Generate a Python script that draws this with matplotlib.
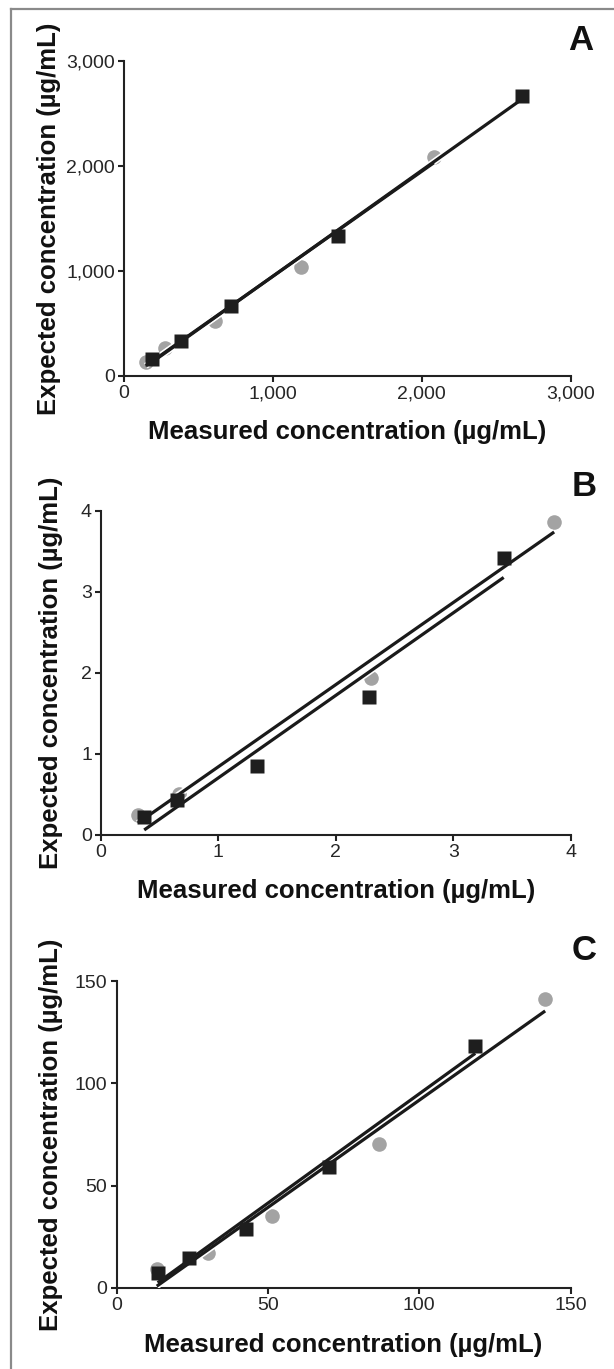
import numpy as np
import matplotlib
matplotlib.use("Agg")
import matplotlib.pyplot as plt
from matplotlib.lines import Line2D

plt.rcParams['font.family'] = ['Liberation Sans', 'DejaVu Sans']

# ---------------- data ----------------
A_circle_x = [147, 274, 611, 1190, 2081]
A_circle_y = [135, 265, 521, 1042, 2090]
A_square_x = [190, 385, 722, 1438, 2676]
A_square_y = [160, 333, 667, 1335, 2668]

B_circle_x = [0.314, 0.662, 2.30, 3.86]
B_circle_y = [0.243, 0.498, 1.93, 3.864]
B_square_x = [0.368, 0.648, 1.327, 2.28, 3.43]
B_square_y = [0.222, 0.428, 0.852, 1.70, 3.416]

C_circle_x = [13.3, 30.2, 51.3, 86.7, 141.6]
C_circle_y = [9.0, 17.1, 35.1, 70.5, 141.5]
C_square_x = [13.6, 24.0, 42.9, 70.3, 118.5]
C_square_y = [7.0, 14.7, 28.7, 58.9, 118.3]

A_ticks = [0, 1000, 2000, 3000]
A_ticklabels = ['0', '1,000', '2,000', '3,000']
B_ticks = [0, 1, 2, 3, 4]
B_ticklabels = ['0', '1', '2', '3', '4']
C_ticks = [0, 50, 100, 150]
C_ticklabels = ['0', '50', '100', '150']

panel_letters = ['A', 'B', 'C']
xlabel = 'Measured concentration (µg/mL)'
ylabel = 'Expected concentration (µg/mL)'

# ---------------- layout ----------------
W, H = 614, 1369
fig = plt.figure(figsize=(W / 100, H / 100), dpi=100)
fig.patch.set_facecolor('white')

# pixel boxes: x0, x1, ytop, ybot
boxes = [
    (124, 570.6, 61, 376),
    (101, 570.6, 510.7, 834.7),
    (116.5, 570.6, 981.3, 1287.7),
]
letter_pos = [(581, 40), (584, 487), (584, 950)]
ylabel_x = [49, 51, 51]
xlabel_y = [432, 891, 1345]

panels = [
    (A_circle_x, A_circle_y, A_square_x, A_square_y, A_ticks, A_ticklabels),
    (B_circle_x, B_circle_y, B_square_x, B_square_y, B_ticks, B_ticklabels),
    (C_circle_x, C_circle_y, C_square_x, C_square_y, C_ticks, C_ticklabels),
]

for i, (cx, cy, sx, sy, ticks, tlabels) in enumerate(panels):
    x0, x1, yt, yb = boxes[i]
    ax = fig.add_axes([x0 / W, 1 - yb / H, (x1 - x0) / W, (yb - yt) / H])
    ax.set_xlim(ticks[0], ticks[-1])
    ax.set_ylim(ticks[0], ticks[-1])
    for s in ['top', 'right']:
        ax.spines[s].set_visible(False)
    for s in ['left', 'bottom']:
        ax.spines[s].set_linewidth(1.5)
        ax.spines[s].set_color('#222222')
    ax.set_xticks(ticks)
    ax.set_xticklabels(tlabels)
    ax.set_yticks(ticks)
    ax.set_yticklabels(tlabels)
    ax.tick_params(direction='out', length=4, width=1.5, color='#222222',
                   labelsize=14, labelcolor='#262626', pad=2.5)

    # circles (gray)
    ax.plot(cx, cy, 'o', ms=10.5, color='#a3a3a3', mec='none', zorder=2, clip_on=False)
    # regression lines
    for xs, ys in [(cx, cy), (sx, sy)]:
        k, b = np.polyfit(xs, ys, 1)
        xl = np.array([min(xs), max(xs)])
        ax.plot(xl, k * xl + b, '-', color='white', lw=4.6, zorder=3,
                solid_capstyle='butt')
        ax.plot(xl, k * xl + b, '-', color='#1a1a1a', lw=2.3, zorder=3.1,
                solid_capstyle='butt')
    # squares (black)
    ax.plot(sx, sy, 's', ms=10, color='#1e1e1e', mec='none', zorder=4, clip_on=False)

    ax.set_xlabel(xlabel, fontsize=18.5, fontweight='bold', color='#111111')
    ax.set_ylabel(ylabel, fontsize=18.5, fontweight='bold', color='#111111')
    ax.xaxis.set_label_coords(((x0 + x1) / 2 - x0) / (x1 - x0),
                              (yb - xlabel_y[i]) / (yb - yt))
    ax.xaxis.label.set_va('center')
    ax.yaxis.set_label_coords((ylabel_x[i] - x0) / (x1 - x0), 0.5)
    ax.yaxis.label.set_va('center')

    lx, ly = letter_pos[i]
    fig.text(lx / W, 1 - ly / H, panel_letters[i], fontsize=25, fontweight='bold',
             ha='center', va='center', color='#111111')

# outer frame (left and top edges)
fig.add_artist(Line2D([11 / W, 11 / W], [0, 1 - 9 / H], transform=fig.transFigure,
                      color='#8a8a8a', lw=1.6))
fig.add_artist(Line2D([11 / W, 1], [1 - 9 / H, 1 - 9 / H], transform=fig.transFigure,
                      color='#8a8a8a', lw=1.6))

fig.savefig('out.png', dpi=100)
